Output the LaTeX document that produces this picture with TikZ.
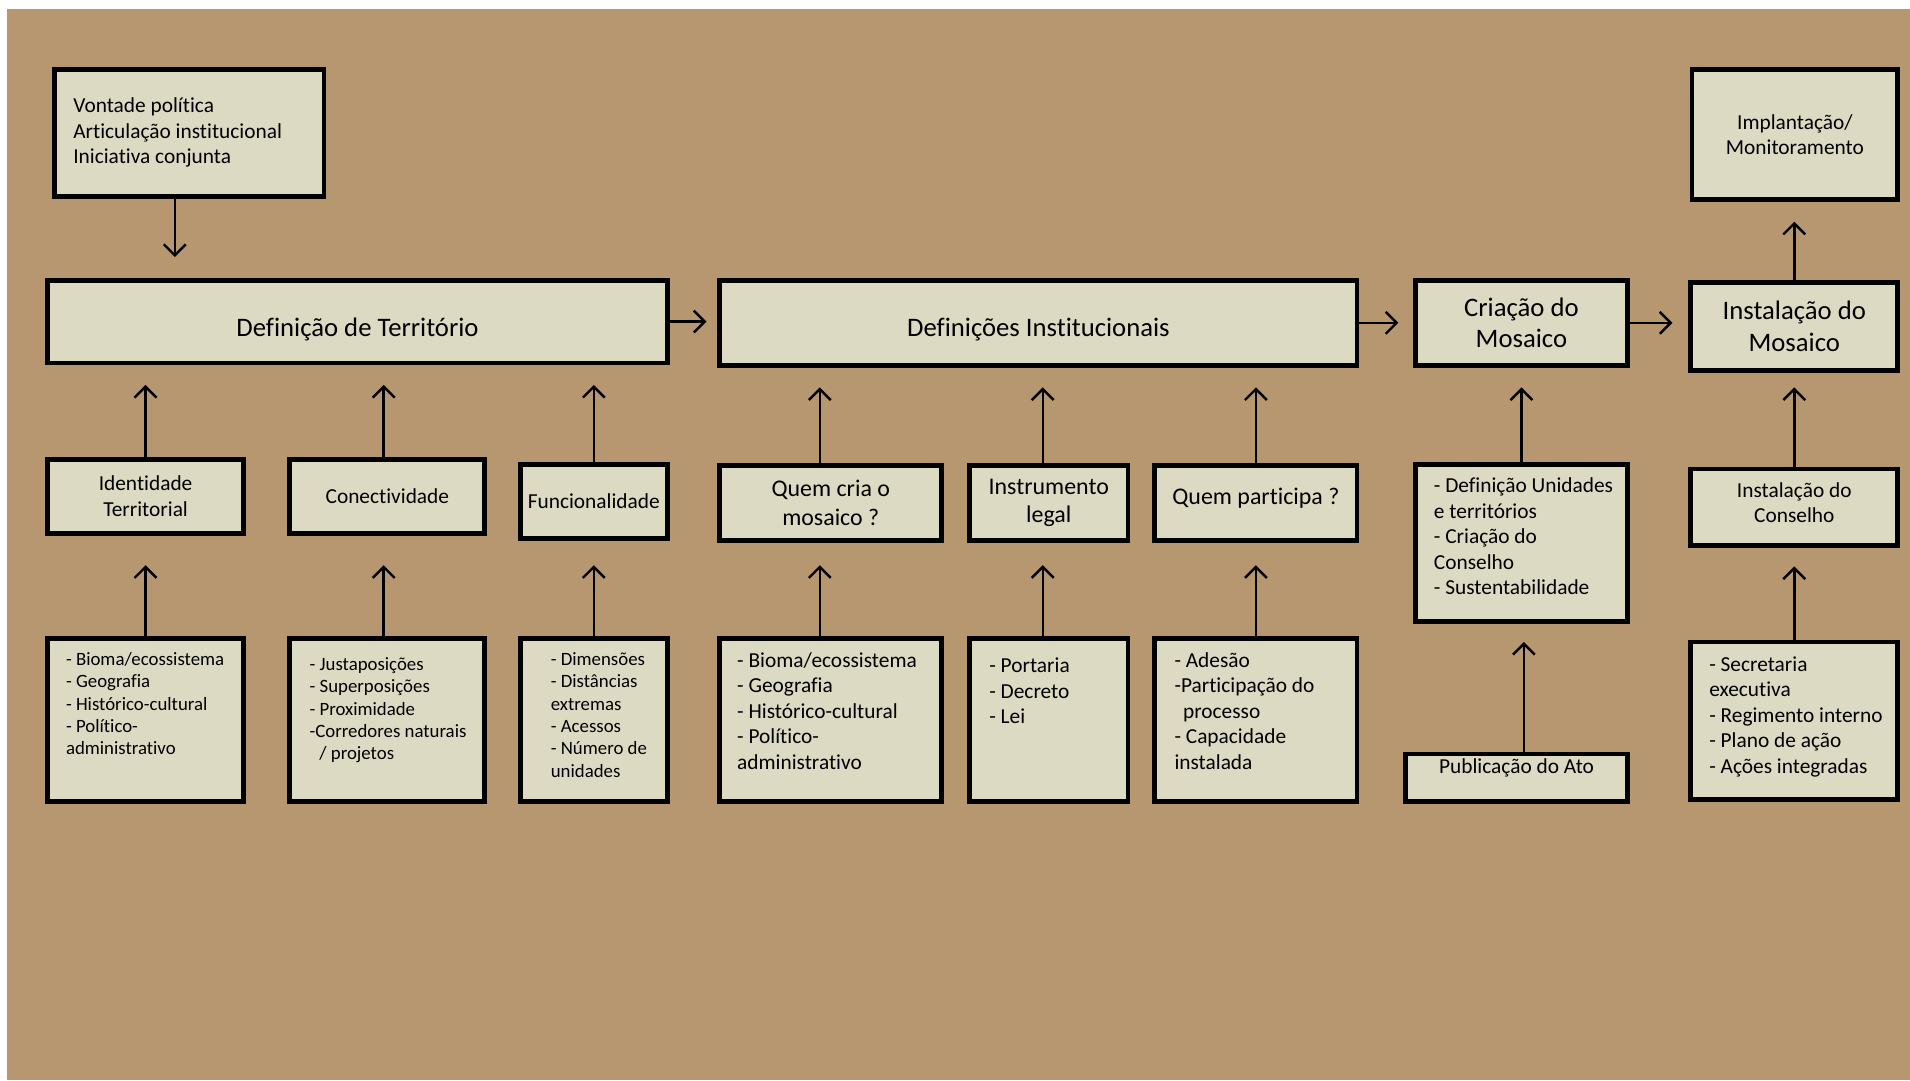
\documentclass[tikz,border=0pt]{standalone}
\usepackage{fontspec}
\setmainfont{Carlito}[Ligatures=NoCommon]
\usetikzlibrary{arrows.meta,calc}

\definecolor{paper}{RGB}{183,151,111}
\definecolor{boxfill}{RGB}{221,218,196}

\begin{document}
\begin{tikzpicture}[x=1bp,y=-1bp,
  box/.style={draw,line width=4bp,fill=boxfill,inner sep=2bp,align=center},
  flow/.style={-{Straight Barb[length=9bp,width=18bp]},line width=2bp},
  listtxt/.style={anchor=north west,inner sep=0pt,align=left},
  fbig/.style={font=\fontsize{22}{26}\selectfont},
  fmid/.style={font=\fontsize{19.7}{23.5}\selectfont},
  fnorm/.style={font=\fontsize{17.6}{21}\selectfont},
  fsmall/.style={font=\fontsize{15.5}{18.4}\selectfont}]

  % paper background
  \useasboundingbox (0,0) rectangle (1568,887);
  \fill[white] (0,0) rectangle (1568,887);
  \fill[paper] (6,7) rectangle (1568,887);

  % top boxes
  \node[box,minimum width=221bp,minimum height=104bp] (vontade) at (155.5,109) {};
  \node[listtxt,fnorm] (vontadeT) at ($(vontade.north west)+(17,25)$)
    {Vontade política\\Articulação institucional\\Iniciativa conjunta};
  \node[box,fnorm,minimum width=169bp,minimum height=107bp] (implant) at (1473.5,110.5)
    {Implantação/\\Monitoramento};

  % main row
  \node[box,fbig,minimum width=509bp,minimum height=68bp,text height=24bp,text depth=0bp] (territorio) at (293.5,264)
    {Definição de Território};
  \node[box,fbig,minimum width=523bp,minimum height=70bp,text height=22bp,text depth=0bp] (instit) at (852.5,265)
    {Definições Institucionais};
  \node[box,fbig,minimum width=174bp,minimum height=70bp] (criacao) at (1249,265) {Criação do\\Mosaico};
  \node[box,fbig,minimum width=170bp,minimum height=72bp] (instalacao) at (1473,268) {Instalação do\\Mosaico};

  % criteria row
  \node[box,fnorm,minimum width=161bp,minimum height=61bp] (identidade) at (119.5,407.5) {Identidade\\Territorial};
  \node[box,fnorm,minimum width=160bp,minimum height=61bp] (conect) at (318,407.5) {Conectividade};
  \node[box,fnorm,minimum width=121bp,minimum height=61bp] (funcional) at (487.5,411.5) {Funcionalidade};
  \node[box,fmid,minimum width=182bp,minimum height=62bp] (quemcria) at (682,413) {Quem cria o\\mosaico ?};
  \node[box,fmid,minimum width=130bp,minimum height=62bp] (instrumento) at (861,413) {Instrumento\\legal};
  \node[box,fmid,minimum width=166bp,minimum height=62bp,text height=13bp,text depth=10bp] (quempart) at (1031,413)
    {Quem participa ?};
  \node[box,minimum width=174bp,minimum height=129bp] (unidades) at (1249,445.5) {};
  \node[listtxt,fnorm] (unidadesT) at ($(unidades.north west)+(17,13)$)
    {- Definição Unidades\\e territórios\\- Criação do\\Conselho\\- Sustentabilidade};
  \node[box,minimum width=170bp,minimum height=63bp] (conselho) at (1473,416.5) {};
  \node[fnorm,align=center] (conselhoT) at ($(conselho)+(0,-4)$) {Instalação do\\Conselho};

  % detail row
  \node[box,minimum width=161bp,minimum height=134bp] (bioma) at (119.5,591) {};
  \node[listtxt,fsmall] (biomaT) at ($(bioma.north west)+(17,13.5)$)
    {- Bioma/ecossistema\\- Geografia\\- Histórico-cultural\\- Político-\\administrativo};
  \node[box,minimum width=160bp,minimum height=134bp] (justap) at (318,591) {};
  \node[listtxt,fsmall] (justapT) at ($(justap.north west)+(18,17.5)$)
    {- Justaposições\\- Superposições\\- Proximidade\\-Corredores naturais\\\hspace*{8bp}/ projetos};
  \node[box,minimum width=121bp,minimum height=134bp] (dimens) at (487.5,591) {};
  \node[listtxt,fsmall] (dimensT) at ($(dimens.north west)+(27,13.5)$)
    {- Dimensões\\- Distâncias\\extremas\\- Acessos\\- Número de\\unidades};
  \node[box,minimum width=182bp,minimum height=134bp] (bioma2) at (682,591) {};
  \node[listtxt,fnorm] (bioma2T) at ($(bioma2.north west)+(16,13.5)$)
    {- Bioma/ecossistema\\- Geografia\\- Histórico-cultural\\- Político-\\administrativo};
  \node[box,minimum width=130bp,minimum height=134bp] (portaria) at (861,591) {};
  \node[listtxt,fnorm] (portariaT) at ($(portaria.north west)+(18,18)$)
    {- Portaria\\- Decreto\\- Lei};
  \node[box,minimum width=166bp,minimum height=134bp] (adesao) at (1031,591) {};
  \node[listtxt,fnorm] (adesaoT) at ($(adesao.north west)+(18,13.5)$)
    {- Adesão\\-Participação do\\\hspace*{7bp}processo\\- Capacidade\\instalada};
  \node[box,fnorm,minimum width=182bp,minimum height=39bp,text height=12bp,text depth=19bp] (publicacao) at (1245,638.5)
    {Publicação do Ato};
  \node[box,minimum width=170bp,minimum height=129bp] (secretaria) at (1473,591.5) {};
  \node[listtxt,fnorm] (secretariaT) at ($(secretaria.north west)+(17,14)$)
    {- Secretaria\\executiva\\- Regimento interno\\- Plano de ação\\- Ações integradas};

  % flow along the main row
  \draw[flow,shorten >=17bp] ([xshift=-12bp]vontade.south) -- ([xshift=-12bp]vontade.south |- territorio.north);
  \draw[flow,shorten >=9bp] (territorio.east) -- (territorio.east -| instit.west);
  \draw[flow,shorten >=12bp] (instit.east) -- (instit.east -| criacao.west);
  \draw[flow,shorten >=13bp] (criacao.east) -- (criacao.east -| instalacao.west);
  \draw[flow,shorten >=16bp] (instalacao.north) -- (instalacao.north |- implant.south);

  % criteria into the main row
  \draw[flow,shorten >=16bp] (identidade.north) -- (identidade.north |- territorio.south);
  \draw[flow,shorten >=16bp] ([xshift=-3bp]conect.north) -- ([xshift=-3bp]conect.north |- territorio.south);
  \draw[flow,shorten >=16bp] (funcional.north) -- (funcional.north |- territorio.south);
  \draw[flow,shorten >=16bp] ([xshift=-9bp]quemcria.north) -- ([xshift=-9bp]quemcria.north |- instit.south);
  \draw[flow,shorten >=16bp] ([xshift=-5bp]instrumento.north) -- ([xshift=-5bp]instrumento.north |- instit.south);
  \draw[flow,shorten >=16bp] (quempart.north) -- (quempart.north |- instit.south);
  \draw[flow,shorten >=16bp] (unidades.north) -- (unidades.north |- criacao.south);
  \draw[flow,shorten >=12bp] (conselho.north) -- (conselho.north |- instalacao.south);

  % details into the criteria
  \draw[flow,shorten >=24bp] (bioma.north) -- (bioma.north |- identidade.south);
  \draw[flow,shorten >=24bp] ([xshift=-3bp]justap.north) -- ([xshift=-3bp]justap.north |- conect.south);
  \draw[flow,shorten >=20bp] (dimens.north) -- (dimens.north |- funcional.south);
  \draw[flow,shorten >=18bp] ([xshift=-9bp]bioma2.north) -- ([xshift=-9bp]bioma2.north |- quemcria.south);
  \draw[flow,shorten >=18bp] ([xshift=-5bp]portaria.north) -- ([xshift=-5bp]portaria.north |- instrumento.south);
  \draw[flow,shorten >=18bp] (adesao.north) -- (adesao.north |- quempart.south);
  \draw[flow,shorten >=15bp] ([xshift=6bp]publicacao.north) -- ([xshift=6bp]publicacao.north |- unidades.south);
  \draw[flow,shorten >=15bp] (secretaria.north) -- (secretaria.north |- conselho.south);
\end{tikzpicture}
\end{document}
